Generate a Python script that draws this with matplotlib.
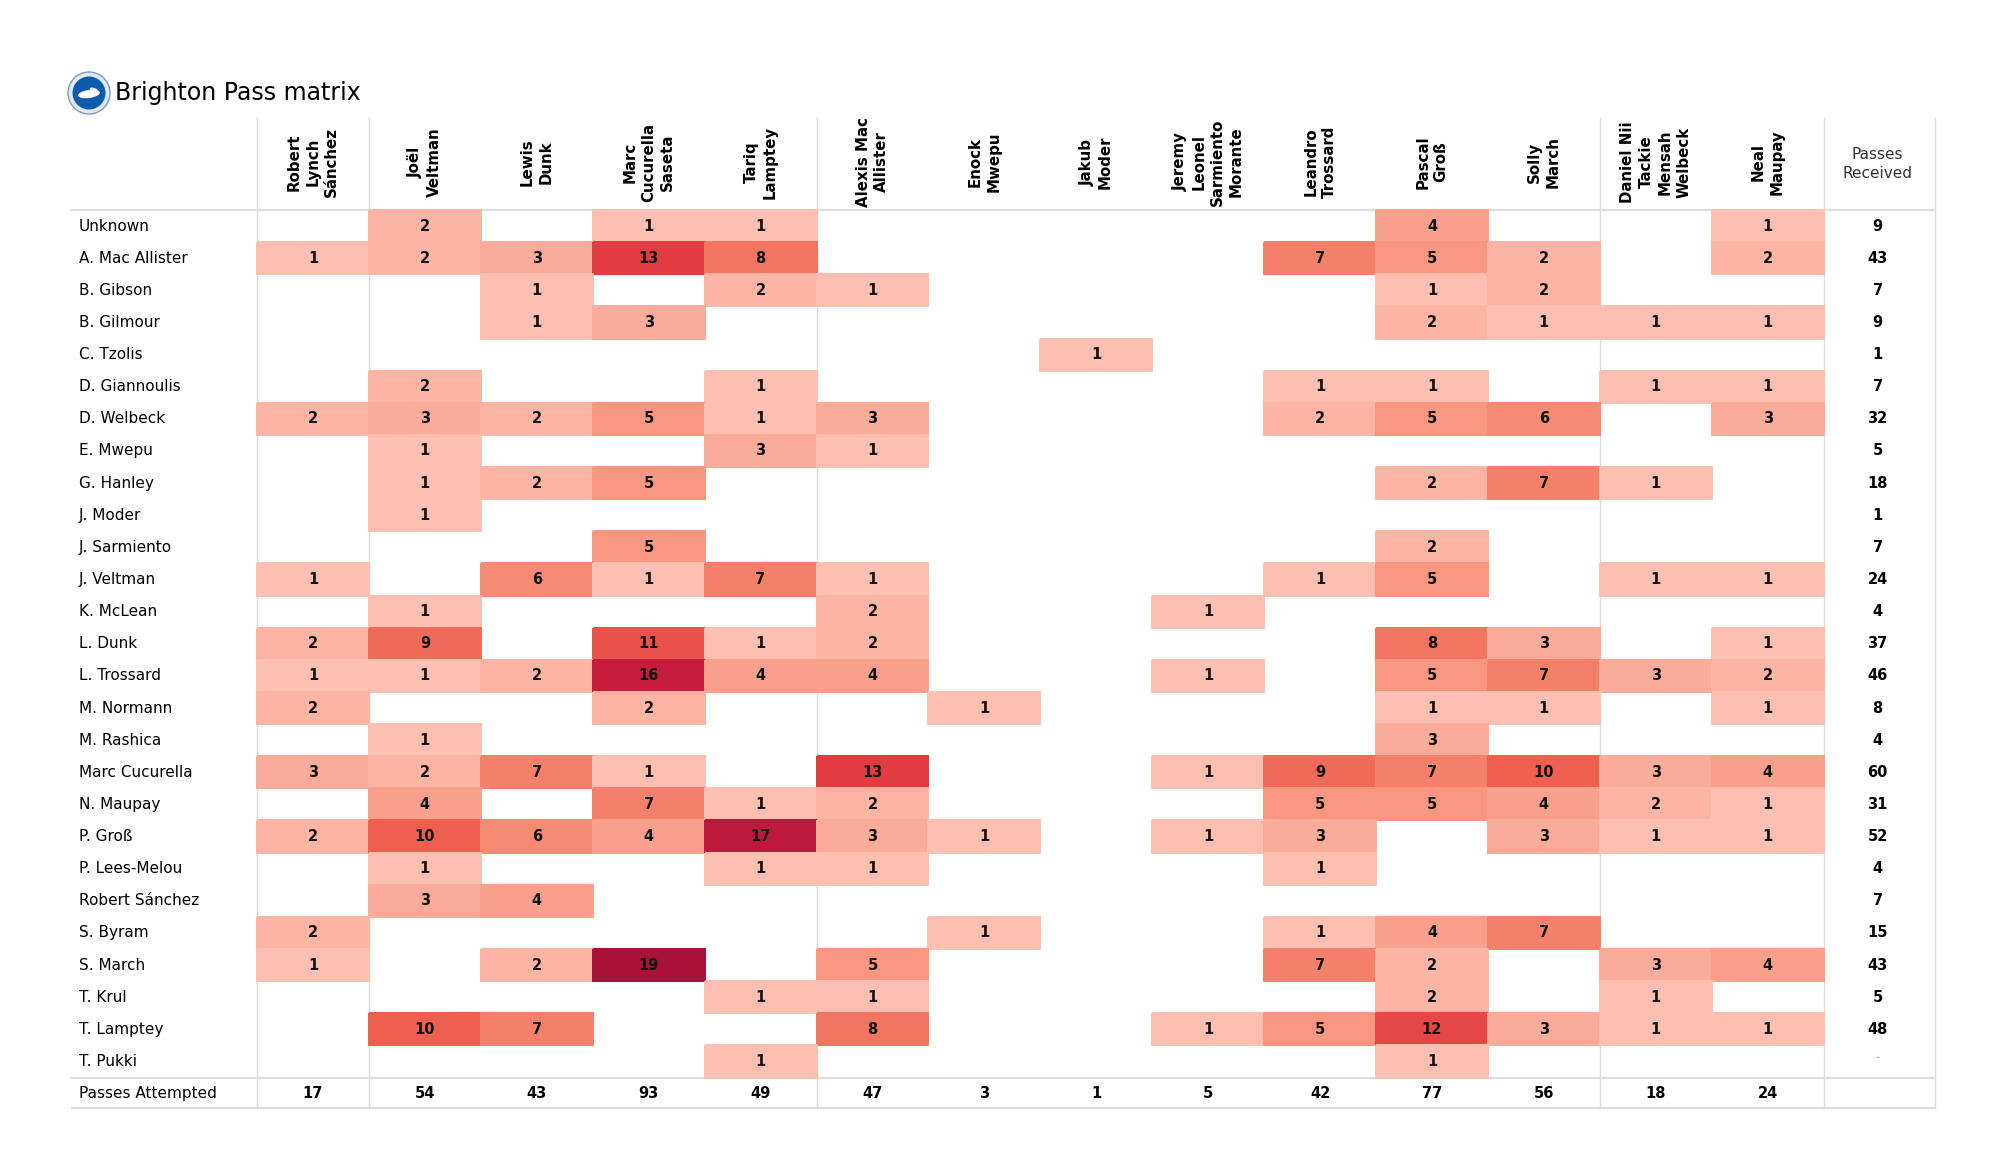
import numpy as np
import matplotlib
matplotlib.use('Agg')
import matplotlib.pyplot as plt
from matplotlib.colors import LinearSegmentedColormap, Normalize
from matplotlib.patches import Circle, Ellipse

jogadores_colunas = [
    "Robert\nLynch\nSánchez", "Joël\nVeltman", "Lewis\nDunk", "Marc\nCucurella\nSaseta",
    "Tariq\nLamptey", "Alexis Mac\nAllister", "Enock\nMwepu", "Jakub\nModer",
    "Jeremy\nLeonel\nSarmiento\nMorante", "Leandro\nTrossard", "Pascal\nGroß", "Solly\nMarch",
    "Daniel Nii\nTackie\nMensah\nWelbeck", "Neal\nMaupay",
]

jogadores_linhas = [
    "Unknown", "A. Mac Allister", "B. Gibson", "B. Gilmour", "C. Tzolis", "D. Giannoulis",
    "D. Welbeck", "E. Mwepu", "G. Hanley", "J. Moder", "J. Sarmiento", "J. Veltman",
    "K. McLean", "L. Dunk", "L. Trossard", "M. Normann", "M. Rashica", "Marc Cucurella",
    "N. Maupay", "P. Groß", "P. Lees-Melou", "Robert Sánchez", "S. Byram", "S. March",
    "T. Krul", "T. Lamptey", "T. Pukki",
]

# linhas = quem recebeu, colunas = quem passou
passes = [
    [0, 2, 0, 1, 1, 0, 0, 0, 0, 0, 4, 0, 0, 1],
    [1, 2, 3, 13, 8, 0, 0, 0, 0, 7, 5, 2, 0, 2],
    [0, 0, 1, 0, 2, 1, 0, 0, 0, 0, 1, 2, 0, 0],
    [0, 0, 1, 3, 0, 0, 0, 0, 0, 0, 2, 1, 1, 1],
    [0, 0, 0, 0, 0, 0, 0, 1, 0, 0, 0, 0, 0, 0],
    [0, 2, 0, 0, 1, 0, 0, 0, 0, 1, 1, 0, 1, 1],
    [2, 3, 2, 5, 1, 3, 0, 0, 0, 2, 5, 6, 0, 3],
    [0, 1, 0, 0, 3, 1, 0, 0, 0, 0, 0, 0, 0, 0],
    [0, 1, 2, 5, 0, 0, 0, 0, 0, 0, 2, 7, 1, 0],
    [0, 1, 0, 0, 0, 0, 0, 0, 0, 0, 0, 0, 0, 0],
    [0, 0, 0, 5, 0, 0, 0, 0, 0, 0, 2, 0, 0, 0],
    [1, 0, 6, 1, 7, 1, 0, 0, 0, 1, 5, 0, 1, 1],
    [0, 1, 0, 0, 0, 2, 0, 0, 1, 0, 0, 0, 0, 0],
    [2, 9, 0, 11, 1, 2, 0, 0, 0, 0, 8, 3, 0, 1],
    [1, 1, 2, 16, 4, 4, 0, 0, 1, 0, 5, 7, 3, 2],
    [2, 0, 0, 2, 0, 0, 1, 0, 0, 0, 1, 1, 0, 1],
    [0, 1, 0, 0, 0, 0, 0, 0, 0, 0, 3, 0, 0, 0],
    [3, 2, 7, 1, 0, 13, 0, 0, 1, 9, 7, 10, 3, 4],
    [0, 4, 0, 7, 1, 2, 0, 0, 0, 5, 5, 4, 2, 1],
    [2, 10, 6, 4, 17, 3, 1, 0, 1, 3, 0, 3, 1, 1],
    [0, 1, 0, 0, 1, 1, 0, 0, 0, 1, 0, 0, 0, 0],
    [0, 3, 4, 0, 0, 0, 0, 0, 0, 0, 0, 0, 0, 0],
    [2, 0, 0, 0, 0, 0, 1, 0, 0, 1, 4, 7, 0, 0],
    [1, 0, 2, 19, 0, 5, 0, 0, 0, 7, 2, 0, 3, 4],
    [0, 0, 0, 0, 1, 1, 0, 0, 0, 0, 2, 0, 1, 0],
    [0, 10, 7, 0, 0, 8, 0, 0, 1, 5, 12, 3, 1, 1],
    [0, 0, 0, 0, 1, 0, 0, 0, 0, 0, 1, 0, 0, 0],
]

passes_recebidos = ["9", "43", "7", "9", "1", "7", "32", "5", "18", "1", "7", "24", "4", "37",
                    "46", "8", "4", "60", "31", "52", "4", "7", "15", "43", "5", "48", "-"]
passes_tentados = [17, 54, 43, 93, 49, 47, 3, 1, 5, 42, 77, 56, 18, 24]

# geometria da tabela (pixels da figura)
x_inicio, larg_col = 257, 111.9
y_inicio, alt_lin = 210, 32.13
x_label = 79
x_esq, x_dir = 72, 1935
cor_linha = '#dcdcdc'

cores = LinearSegmentedColormap.from_list('passes', [
    (0.0, '#fdbfb2'), (0.22, '#f8967f'), (0.5, '#ee5f4f'),
    (0.67, '#e13b42'), (0.83, '#c81d3d'), (1.0, '#a8123a')])

fig = plt.figure(figsize=(20, 11.75), dpi=100)
ax = fig.add_axes([0, 0, 1, 1])
ax.set_xlim(0, 2000)
ax.set_ylim(1175, 0)
ax.axis('off')

matriz = np.array(passes, dtype=float)
n_lin, n_col = matriz.shape
bordas_x = x_inicio + larg_col * np.arange(n_col + 1)
bordas_y = y_inicio + alt_lin * np.arange(n_lin + 1)
ax.pcolormesh(bordas_x, bordas_y, np.ma.masked_equal(matriz, 0), cmap=cores,
              norm=Normalize(vmin=1, vmax=19), edgecolors='face', linewidth=0.3)

centros_x = (bordas_x[:-1] + bordas_x[1:]) / 2
centros_y = (bordas_y[:-1] + bordas_y[1:]) / 2
x_recebidos = x_inicio + larg_col * n_col + 54
y_tentados = bordas_y[-1] + 16

for i in range(n_lin):
    ax.text(x_label, centros_y[i], jogadores_linhas[i], ha='left', va='center', fontsize=11)
    for j in range(n_col):
        if passes[i][j] > 0:
            ax.text(centros_x[j], centros_y[i], str(passes[i][j]), ha='center', va='center',
                    fontsize=10.5, fontweight='bold', color='#111111')
    if passes_recebidos[i] == "-":
        ax.text(x_recebidos, centros_y[i] - 4, "-", ha='center', va='center', fontsize=8, color='#999999')
    else:
        ax.text(x_recebidos, centros_y[i], passes_recebidos[i], ha='center', va='center',
                fontsize=10.5, fontweight='bold')

for j in range(n_col):
    ax.text(centros_x[j], 162, jogadores_colunas[j], rotation=90, ha='center', va='center',
            multialignment='center', fontsize=10.8, fontweight='bold', linespacing=1.3)
    ax.text(centros_x[j], y_tentados, str(passes_tentados[j]), ha='center', va='center',
            fontsize=10.5, fontweight='bold')

ax.text(x_recebidos, 164, "Passes\nReceived", ha='center', va='center', fontsize=11,
        multialignment='center', color='#333333', linespacing=1.3)
ax.text(x_label, y_tentados, "Passes Attempted", ha='left', va='center', fontsize=11)

# linhas da grade
for k in [0, 1, 5, 12, 14]:
    ax.plot([bordas_x[k], bordas_x[k]], [118, 1108], color=cor_linha, lw=1, zorder=0)
ax.plot([x_dir, x_dir], [118, 1108], color=cor_linha, lw=1, zorder=0)
for y in [210, bordas_y[-1], 1108]:
    ax.plot([x_esq, x_dir], [y, y], color=cor_linha, lw=1.5, zorder=0)

# titulo com escudo
ax.add_patch(Circle((89, 93), 21, facecolor='#dfe8f3', edgecolor='#7f9cc4', lw=1))
ax.add_patch(Circle((89, 93), 16.5, facecolor='#0b5cad', edgecolor='none'))
ax.add_patch(Ellipse((89, 94), 22, 8, angle=-8, facecolor='white', edgecolor='none'))
ax.add_patch(Ellipse((94, 90), 9, 4, angle=20, facecolor='white', edgecolor='none'))
ax.text(115, 93, "Brighton Pass matrix", ha='left', va='center', fontsize=17)

fig.savefig('out.png', dpi=100, facecolor='white')
